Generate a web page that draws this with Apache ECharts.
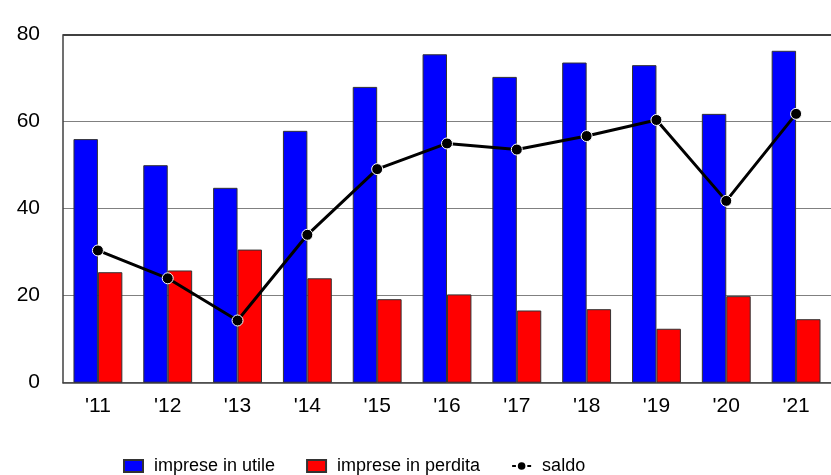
<!DOCTYPE html>
<html>
<head>
<meta charset="utf-8">
<script src="https://cdn.jsdelivr.net/npm/echarts@6/dist/echarts.min.js"></script>
<style>html,body{margin:0;padding:0;background:#fff;}#c{width:831px;height:475px;}</style>
</head>
<body>
<div id="c"></div>
<script>
const categories = ["'11","'12","'13","'14","'15","'16","'17","'18","'19","'20","'21"];
const impreseUtile = [56.0, 50.0, 44.8, 57.9, 68.0, 75.5, 70.3, 73.6, 73.0, 61.8, 76.3];
const impresePerdita = [25.4, 25.8, 30.6, 24.0, 19.2, 20.3, 16.6, 16.9, 12.4, 19.9, 14.6];
const saldo = [30.4, 24.0, 14.3, 34.0, 49.1, 55.0, 53.6, 56.7, 60.4, 41.8, 61.8];
const yTicks = [0, 20, 40, 60, 80];

const font = "'Liberation Sans', Arial, sans-serif";
const chart = echarts.init(document.getElementById('c'), null, {renderer: 'canvas'});
chart.setOption({
  animation: false,
  backgroundColor: '#ffffff',
  textStyle: {fontFamily: font},
  grid: {left: 63, right: -1, top: 34.7, bottom: 92.3, containLabel: false},
  legend: {
    left: 118, top: 452,
    itemGap: 31,
    itemWidth: 19, itemHeight: 12,
    textStyle: {fontFamily: font, fontSize: 18, color: '#000', padding: [0, 0, 0, 6]},
    data: [
      {name: 'imprese in utile', icon: 'rect'},
      {name: 'imprese in perdita', icon: 'rect'},
      {name: 'saldo'}
    ]
  },
  xAxis: {
    type: 'category',
    data: categories,
    axisTick: {show: false},
    axisLine: {lineStyle: {color: '#404040', width: 1.5}},
    axisLabel: {color: '#000', fontSize: 21, fontFamily: font, margin: 13}
  },
  yAxis: {
    type: 'value',
    min: yTicks[0], max: yTicks[yTicks.length - 1], interval: 20,
    axisLine: {show: true, lineStyle: {color: '#404040', width: 1.5}},
    axisTick: {show: false},
    axisLabel: {color: '#000', fontSize: 21, fontFamily: font, margin: 23},
    splitLine: {lineStyle: {color: '#808080', width: 1}}
  },
  series: [
    {
      name: 'imprese in utile', type: 'bar', data: impreseUtile,
      barGap: '0%', barCategoryGap: '30%',
      itemStyle: {color: '#0000ff', borderColor: '#333333', borderWidth: 1},
      markLine: {
        silent: true, symbol: 'none', label: {show: false},
        lineStyle: {color: '#404040', width: 2, type: 'solid'},
        data: [{yAxis: yTicks[yTicks.length - 1]}]
      }
    },
    {
      name: 'imprese in perdita', type: 'bar', data: impresePerdita,
      barGap: '0%', barCategoryGap: '30%',
      itemStyle: {color: '#ff0000', borderColor: '#333333', borderWidth: 1}
    },
    {
      name: 'saldo', type: 'line', data: saldo, z: 5,
      symbol: 'circle', symbolSize: 11,
      lineStyle: {color: '#000', width: 3},
      itemStyle: {color: '#000', borderColor: '#ffffff', borderWidth: 1}
    }
  ]
});
</script>
</body>
</html>
